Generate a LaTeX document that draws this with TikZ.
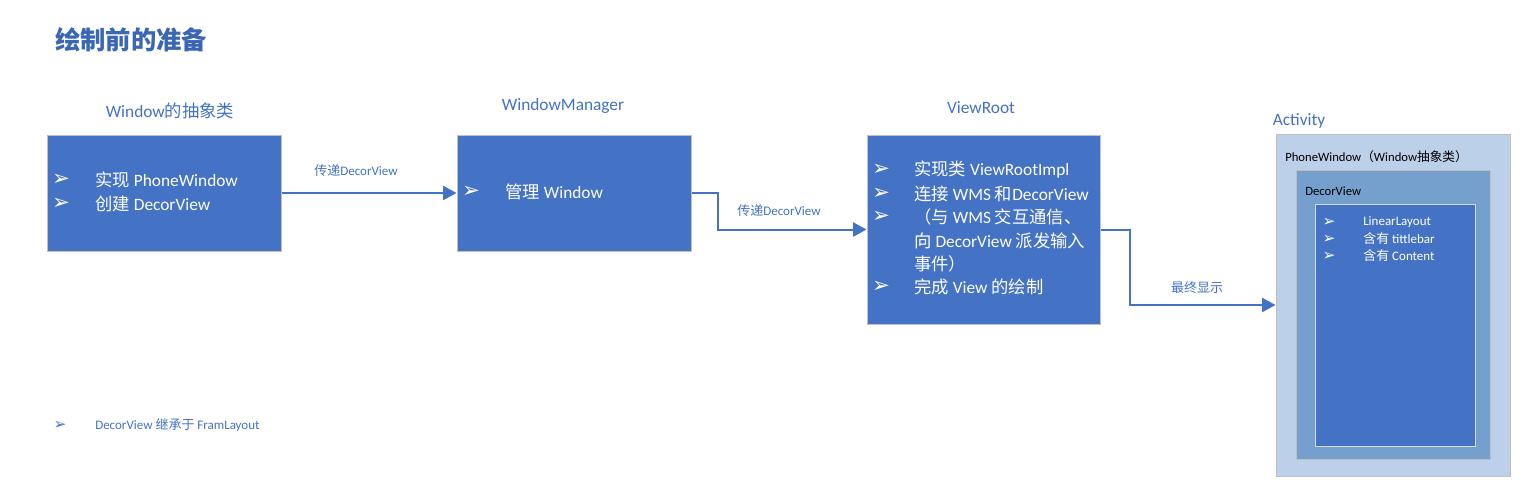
\documentclass[tikz,border=0pt]{standalone}
\usepackage{fontspec}
\setmainfont{Carlito}
\newfontfamily\cjk{Noto Sans CJK SC}
\newfontfamily\sym{DejaVu Sans}
\usepackage{xcolor}
\usepackage{tikz}
\usetikzlibrary{arrows.meta,positioning}
\definecolor{boxblue}{HTML}{4472C4}
\definecolor{boxline}{HTML}{BFBFBF}
\definecolor{titleblue}{HTML}{3A66B4}
\definecolor{actfill}{HTML}{BDD0E9}
\definecolor{decorfill}{HTML}{75A0CD}

\begin{document}
\begin{tikzpicture}[x=0.75pt,y=-0.75pt,>={Triangle[length=10pt,width=10.5pt]}]
	\tikzstyle{box}=[draw=boxline,fill=boxblue,line width=0.75pt,inner sep=0pt,minimum width=175.5pt]
	\tikzstyle{head}=[text=boxblue,font=\fontsize{13}{15}\selectfont,inner sep=0pt]
	\tikzstyle{small}=[text=boxblue,font=\fontsize{9.75}{11}\selectfont,inner sep=0pt]
	\tikzstyle{bul}=[text=white,font=\sym\fontsize{16}{18}\selectfont,inner sep=0pt]
	\tikzstyle{item}=[text=white,font=\fontsize{13}{15}\selectfont,anchor=west,inner sep=0pt]
	\tikzstyle{sbul}=[text=white,font=\sym\fontsize{11.5}{13}\selectfont,inner sep=0pt]
	\tikzstyle{sitem}=[text=white,font=\fontsize{9.75}{11}\selectfont,anchor=west,inner sep=0pt]
	\tikzstyle{flow}=[->,draw=boxblue,line width=1.5pt]
	
	\useasboundingbox (0,0) rectangle (1535,494);
	
	% title
	\node[anchor=west,inner sep=0pt,text=titleblue,font=\cjk\bfseries\fontsize{19}{22}\selectfont] (title) at (55,40) {绘制前的准备};
	
	% the three steps
	\node[box,minimum height=87pt](win) at (164,193) {};
	\node[box,minimum height=87pt](wm) at (574,193) {};
	\node[box,minimum width=174.75pt,minimum height=141.75pt](vr) at (983.5,229.5) {};
	
	\node[head](winlbl) at (170,111) {Window{\cjk 的抽象类}};
	\node[head](wmlbl) at (563,106) {WindowManager};
	\node[head](vrlbl) at (981,108) {ViewRoot};
	
	\node[bul](b1) at (61,180) {➢};
	\node[item](t1) at (95,180) {{\cjk 实现} PhoneWindow};
	\node[bul](b2) at (61,204) {➢};
	\node[item](t2) at (95,204) {{\cjk 创建} DecorView};
	
	\node[bul](b3) at (471,192) {➢};
	\node[item](t3) at (505,192) {{\cjk 管理} Window};
	
	\node[bul](b4) at (881,170) {➢};
	\node[item](t4) at (914,170) {{\cjk 实现类} ViewRootImpl};
	\node[bul](b5) at (881,194) {➢};
	\node[item](t5) at (914,194) {{\cjk 连接} WMS {\cjk 和}DecorView};
	\node[bul](b6) at (881,217) {➢};
	\node[item](t6) at (914,217) {{\cjk （与} WMS {\cjk 交互通信、}};
	\node[item](t7) at (914,241) {{\cjk 向} DecorView {\cjk 派发输入}};
	\node[item](t8) at (914,264) {{\cjk 事件）}};
	\node[bul](b9) at (881,287) {➢};
	\node[item](t9) at (914,287) {{\cjk 完成} View {\cjk 的绘制}};
	
	% activity
	\node[draw=boxline,fill=actfill,line width=0.75pt,inner sep=0pt,minimum width=175.5pt,minimum height=256.5pt](act) at (1393,305) {};
	\node[draw=boxline,fill=decorfill,line width=0.75pt,inner sep=0pt,minimum width=145.5pt,minimum height=216.75pt](decor) at (1393,314.5) {};
	\node[box,draw=boxline!60,minimum width=120pt,minimum height=181.5pt](lin) at (1395,325) {};
	
	\node[head](actlbl) at (1299,121) {Activity};
	\node[anchor=west,inner sep=0pt,font=\fontsize{9.5}{11}\selectfont](pwlbl) at (1285,157) {PhoneWindow{\cjk （}Window{\cjk 抽象类）}};
	\node[anchor=west,inner sep=0pt,font=\fontsize{9.5}{11}\selectfont](dvlbl) at (1305,191) {DecorView};
	
	\node[sbul](s1) at (1329,222) {➢};
	\node[sitem](u1) at (1363,222) {LinearLayout};
	\node[sbul](s2) at (1329,239) {➢};
	\node[sitem](u2) at (1363,239) {{\cjk 含有} tittlebar};
	\node[sbul](s3) at (1329,256) {➢};
	\node[sitem](u3) at (1363,256) {{\cjk 含有} Content};
	
	% connectors
	\draw[flow] (win) -- (wm);
	\draw[flow] (wm.east) -- ++(26,0) |- (vr.west);
	\draw[flow] (vr.east) -- ++(29,0) |- (act.west);
	
	\node[small](p1) at (356,171) {{\cjk 传递}DecorView};
	\node[small](p2) at (779,211) {{\cjk 传递}DecorView};
	\node[small](p3) at (1197,288) {{\cjk 最终显示}};
	
	% note
	\node[bul,text=boxblue,font=\sym\fontsize{11.5}{13}\selectfont](b10) at (60,425) {➢};
	\node[small,anchor=west](note) at (95,425) {DecorView {\cjk 继承于} FramLayout};
\end{tikzpicture}
\end{document}
